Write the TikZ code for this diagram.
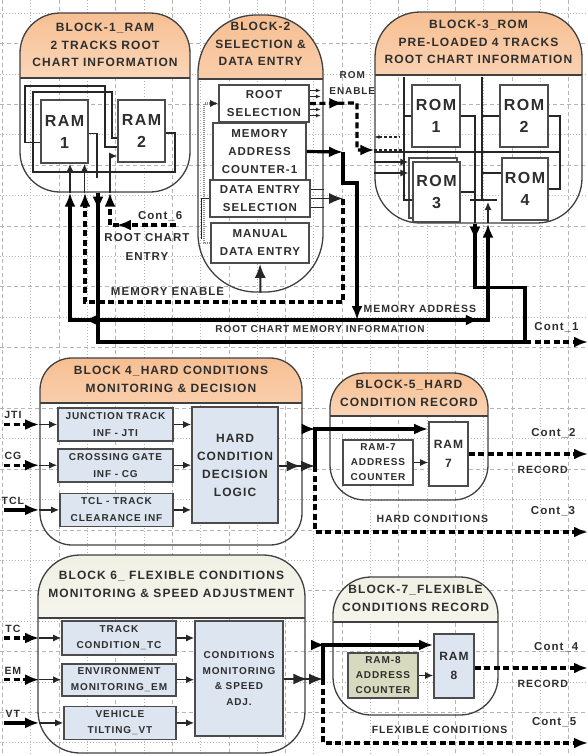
\documentclass[tikz,border=0pt]{standalone}
\usepackage{fontspec}
\setmainfont{Liberation Sans}[LetterSpace=9]
\usepackage{tikz}
\usetikzlibrary{arrows.meta, positioning, calc, decorations.markings}
\definecolor{hdrorange}{HTML}{F7BF92}
\definecolor{hdrpale}{HTML}{F1F0E4}
\definecolor{unitblue}{HTML}{DDE5F0}
\definecolor{unitkhaki}{HTML}{D7DABE}
\definecolor{gridgray}{HTML}{B5B5B5}
\definecolor{inkgray}{HTML}{2E2E2E}

\begin{document}
\begin{tikzpicture}[
    x=1pt, y=-1pt,
    block/.style n args={5}{draw=black!75, line width=1.3pt, minimum width=#1, minimum height=#2, rounded corners=#3, inner sep=0pt,
        path picture={
            \shade[sharp corners, top color=#5, bottom color=white] (path picture bounding box.north west) rectangle ([yshift=-#4]path picture bounding box.north east);
            \draw[sharp corners, black!75, line width=1.3pt] ([yshift=-#4]path picture bounding box.north west) -- ([yshift=-#4]path picture bounding box.north east);}},
    hdrtext/.style={align=center, text=inkgray, inner sep=1pt, font=\fontsize{12}{17.5}\selectfont\bfseries},
    unitbox/.style={draw=black!70, line width=1.7pt, fill=white, align=center, inner sep=0pt, text=inkgray, font=\fontsize{11.5}{18}\selectfont\bfseries},
    membox/.style={unitbox, font=\fontsize{16}{22}\selectfont\bfseries},
    smallbox/.style={unitbox, fill=unitblue, font=\fontsize{10}{16}\selectfont\bfseries},
    lbl/.style={text=inkgray, inner sep=1pt, align=center, font=\fontsize{10.5}{18}\selectfont\bfseries},
    contlbl/.style={lbl, font=\fontsize{11.5}{14}\selectfont\bfseries},
    gridline/.style={gridgray, line width=0.6pt},
    wire/.style={line width=1.2pt, black!85},
    bus/.style={line width=3.2pt},
    dashbus/.style={bus, dash pattern=on 6pt off 3.5pt},
    bigarrow/.style={-{Latex[length=14pt, width=11pt]}},
    smallarrow/.style={-{Latex[length=8pt, width=7pt]}},
    midtip/.style={postaction={decorate}, decoration={markings, mark=at position #1 with {\arrow{Latex[length=14pt, width=11pt]}}}}
]
\useasboundingbox (0,0) rectangle (588,756);

% Grid
\foreach \k in {0,2,...,20} \draw[gridline, dash pattern=on 4pt off 3pt] ({2.4+28.3*\k},0) -- ({2.4+28.3*\k},756);
\foreach \k in {1,3,...,19} \draw[gridline, dash pattern=on 1pt off 2pt] ({2.4+28.3*\k},0) -- ({2.4+28.3*\k},756);
\foreach \k in {0,2,...,24} \draw[gridline, dash pattern=on 1pt off 2pt] (0,{13+30.4*\k}) -- (588,{13+30.4*\k});
\foreach \k in {1,3,...,23} \draw[gridline, dash pattern=on 4pt off 3pt] (0,{13+30.4*\k}) -- (588,{13+30.4*\k});

% Blocks
\node[block={170}{179}{40}{65}{hdrorange}] (blk1) at (105,102.5) {};
\node[block={125}{277}{58}{64}{hdrorange}] (blk2) at (260.5,153.5) {};
\node[block={207}{211}{45}{63}{hdrorange}] (blk3) at (478.5,117.5) {};
\node[block={262}{187}{32}{45}{hdrorange}] (blk4) at (171,451.5) {};
\node[block={158}{127}{35}{43}{hdrorange}] (blk5) at (409,436.5) {};
\node[block={267}{198}{42}{63}{hdrpale}] (blk6) at (171.5,654) {};
\node[block={165}{138}{38}{45}{hdrpale}] (blk7) at (415.5,646) {};

\node[hdrtext, below=10pt of blk1.north] (blk1title) {BLOCK-1\_RAM\\2 TRACKS ROOT\\CHART INFORMATION};
\node[hdrtext, below=7pt of blk2.north] (blk2title) {BLOCK-2\\SELECTION \&\\DATA ENTRY};
\node[hdrtext, below=8pt of blk3.north] (blk3title) {BLOCK-3\_ROM\\PRE-LOADED 4 TRACKS\\ROOT CHART INFORMATION};
\node[hdrtext, below=8pt of blk4.north] (blk4title) {BLOCK 4\_HARD CONDITIONS\\MONITORING \& DECISION};
\node[hdrtext, below=7pt of blk5.north] (blk5title) {BLOCK-5\_HARD\\CONDITION RECORD};
\node[hdrtext, below=16pt of blk6.north] (blk6title) {BLOCK 6\_ FLEXIBLE CONDITIONS\\MONITORING \& SPEED ADJUSTMENT};
\node[hdrtext, below=8pt of blk7.north] (blk7title) {BLOCK-7\_FLEXIBLE\\CONDITIONS RECORD};

% Nodes
\node[membox, minimum width=47, minimum height=63] (ram1) at (64.5,131.5) {RAM\\1};
\node[membox, minimum width=47, minimum height=62] (ram2) at (141.5,131) {RAM\\2};

\node[unitbox, minimum width=90, minimum height=37] (rootsel) at (264,103.5) {ROOT\\SELECTION};
\node[unitbox, minimum width=93, minimum height=57] (mac) at (259.5,151.5) {MEMORY\\ADDRESS\\COUNTER-1};
\node[unitbox, minimum width=100, minimum height=37] (des) at (260,198.5) {DATA ENTRY\\SELECTION};
\node[unitbox, minimum width=98, minimum height=40] (mde) at (260,243) {MANUAL\\DATA ENTRY};

\draw[black!70, line width=1.7pt] (409,158) rectangle (457,218);
\node[membox, minimum width=48, minimum height=62] (rom1) at (436,116) {ROM\\1};
\node[membox, minimum width=48, minimum height=62] (rom2) at (524,116) {ROM\\2};
\node[membox, minimum width=47, minimum height=60] (rom3) at (436.5,192) {ROM\\3};
\node[membox, minimum width=46, minimum height=62] (rom4) at (525,189) {ROM\\4};

\node[smallbox, minimum width=115, minimum height=33, font=\fontsize{10}{17}\selectfont\bfseries] (jti) at (115.5,424.5) {JUNCTION TRACK\\INF - JTI};
\node[smallbox, minimum width=115, minimum height=33, font=\fontsize{10}{17}\selectfont\bfseries, below=6pt of jti] (cg) {CROSSING GATE\\INF - CG};
\node[smallbox, minimum width=113, minimum height=33, font=\fontsize{10}{17}\selectfont\bfseries, below=10pt of cg, xshift=1pt] (tcl) {TCL - TRACK\\CLEARANCE INF};
\node[smallbox, minimum width=86, minimum height=116, font=\fontsize{12}{18}\selectfont\bfseries] (hcd) at (235,465) {HARD\\CONDITION\\DECISION\\LOGIC};

\node[unitbox, minimum width=70, minimum height=45, font=\fontsize{10}{15}\selectfont\bfseries] (rc7) at (378,462.5) {RAM-7\\ADDRESS\\COUNTER};
\node[unitbox, minimum width=39, minimum height=64, font=\fontsize{12}{19}\selectfont\bfseries] (ram7) at (448.5,454) {RAM\\7};

\node[smallbox, minimum width=114, minimum height=34] (tc) at (119,638) {TRACK\\CONDITION\_TC};
\node[smallbox, minimum width=114, minimum height=32, below=7pt of tc] (em) {ENVIRONMENT\\MONITORING\_EM};
\node[smallbox, minimum width=112, minimum height=33, below=9pt of em, xshift=1pt] (vt) {VEHICLE\\TILTING\_VT};
\node[smallbox, minimum width=88, minimum height=115, font=\fontsize{10}{15.5}\selectfont\bfseries] (cms) at (239,678.5) {CONDITIONS\\MONITORING\\\& SPEED\\ADJ.};

\node[unitbox, fill=unitkhaki, minimum width=70, minimum height=45, font=\fontsize{10}{15}\selectfont\bfseries] (rc8) at (383,675.5) {RAM-8\\ADDRESS\\COUNTER};
\node[unitbox, fill=unitblue, minimum width=40, minimum height=64, font=\fontsize{12}{19}\selectfont\bfseries] (ram8) at (454,666) {RAM\\8};

% Wiring inside the RAM and ROM blocks
\draw[wire] ([yshift=-11pt]ram1.west) -| (25,86) -| (105,147) -- ([yshift=-16pt]ram2.west);
\draw[wire] ([yshift=-2pt]ram2.east) -| (175,172) -| (33,92) -| (112,138) -- ([yshift=-7pt]ram2.west);
\draw[wire] ([yshift=-2pt]ram1.east) -| (97,178);
\draw[wire, smallarrow] ([xshift=5.5pt]blk1.south -| ram1.south) -- ([xshift=5.5pt]ram1.south);
\draw[wire, smallarrow] ([xshift=20pt]blk1.south -| ram1.south) -- ([xshift=20pt]ram1.south);
\draw[wire, smallarrow] ([xshift=5pt]blk1.south) |- ([yshift=-25pt]ram2.west);

\draw[wire] (404,77) -- (404,200) -- ([yshift=-8pt]rom3.west);
\draw[wire] (rom1.west) -- (404,116);
\draw[wire] (482,77) -- (482,200);
\draw[wire] (rom2.west) -- (482,116);
\draw[wire] ([yshift=16pt]rom4.west) -- (482,173);
\draw[wire] (374,152) -- (560,152);
\draw[wire] (rom1.east) -| (475,223);
\draw[wire] (rom3.east) -- (475,192);
\draw[wire] (rom2.east) -| (560,189) -- (rom4.east);
\draw[wire] (470,200) -- (497,200);
\draw[wire, smallarrow] (488,223) -- (488,202);

% Arrows
\coordinate (c6) at (176,225);
\coordinate (me) at (343,302);
\coordinate (ma) at (343,152);
\coordinate (mab) at (357,320);
\coordinate (ob) at (525,342);
\coordinate (cont1) at (588,342);
\coordinate (re) at (357,103);

\draw[dashbus, midtip=0.6, bigarrow] (c6) -| node[pos=0.12, above=2pt, contlbl] {Cont\_6} node[pos=0.22, below=6pt, lbl, font=\fontsize{11.5}{19}\selectfont\bfseries] {ROOT CHART\\ENTRY} ([xshift=5pt]blk1.south);

\draw[wire, bigarrow] (des.east) -- (des.east -| me);
\draw[wire] ([yshift=-9pt]des.east) -- ++(13,0);
\draw[wire] ([yshift=9pt]des.east) -- ++(13,0);
\draw[dashbus, bigarrow] (des.east -| me) -- (me) -| node[pos=0.34, above=4pt, lbl, font=\fontsize{11.5}{14}\selectfont\bfseries] {MEMORY ENABLE} ([xshift=-20pt]blk1.south);

\draw[bus, bigarrow] (mac.east) -- (ma);
\draw[bus, bigarrow] (ma) -- ++(0,31) -| (mab);
\draw[bus, midtip=0.66, bigarrow] (mab) -| ([xshift=-35pt]blk1.south);
\draw[bus, midtip=0.54, bigarrow] (mab) -| node[pos=0.24, above=5pt, lbl] {MEMORY ADDRESS} ([xshift=9.5pt]blk3.south);

\draw[bus, bigarrow] ([xshift=-7pt]blk1.south) -- ++(0,18);
\draw[bus] ([xshift=-7pt]blk1.south) |- node[pos=0.76, above=7pt, lbl, font=\fontsize{10}{12}\selectfont\bfseries] {ROOT CHART MEMORY INFORMATION} (ob);
\draw[bus, bigarrow] ([xshift=-3.5pt]blk3.south) -- ++(0,17);
\draw[bus] ([xshift=-3.5pt]blk3.south) -- ++(0,64) -| (ob);
\draw[dashbus, bigarrow] (ob) -- node[above=8pt, contlbl] {Cont\_1} (cont1);

\draw[dashbus, midtip=0.3, bigarrow] (rootsel.east) -- node[pos=0.9, above=6pt, lbl, font=\fontsize{10}{16}\selectfont\bfseries] {ROM\\ENABLE} (re) |- ([yshift=-32.5pt]blk3.west);
\foreach \dy in {13,7,-6,-12} \draw[wire, -{Latex[length=5pt, width=4pt]}] ([yshift=\dy pt]rootsel.east) -- ++(11,0);
\draw[wire, densely dashed, {Latex[length=5pt, width=4pt]}-] ([yshift=-19.5pt]blk3.west) -- ++(25,0);
\draw[wire, densely dashed] ([yshift=-32.5pt]blk3.west) -- ++(30,0);
\draw[wire, smallarrow] ([yshift=-44.5pt]blk3.west) -- ++(34,0);
\draw[wire, smallarrow] ([yshift=-55.5pt]blk3.west) -- ++(34,0);

\draw[wire, line width=2pt, bigarrow] (blk2.south) -- (mde.south);
\draw[line width=2.4pt, black!45, dash pattern=on 0.8pt off 1.2pt] (mde.west) -- ++(-6,0) |- ([xshift=-3pt]rootsel.west);
\draw[wire, smallarrow] ([xshift=-8pt]rootsel.west) -- (rootsel.west);
\draw[wire] (des.west) -- ++(-8,0) -- ++(0,40);

% Hard conditions
\coordinate (j5) at (315,466);
\coordinate (cont2) at (588,454);
\coordinate (cont3) at (588,532);
\draw[dashbus, bigarrow] ([xshift=-53pt]jti.west) -- node[pos=0.25, above=3pt, lbl] {JTI} ([xshift=-18pt]jti.west);
\draw[dashbus, bigarrow] ([xshift=-53pt]cg.west) -- node[pos=0.25, above=3pt, lbl] {CG} ([xshift=-18pt]cg.west);
\draw[bus, bigarrow] ([xshift=-55pt]tcl.west) -- node[pos=0.25, above=3pt, lbl] {TCL} ([xshift=-20pt]tcl.west);
\draw[wire, smallarrow] ([xshift=-18pt]jti.west) -- (jti.west);
\draw[wire, smallarrow] ([xshift=-18pt]cg.west) -- (cg.west);
\draw[wire, smallarrow] ([xshift=-20pt]tcl.west) -- (tcl.west);
\draw[wire, smallarrow] (jti.east) -- (jti.east -| hcd.west);
\draw[wire, smallarrow] (cg.east) -- (cg.east -| hcd.west);
\draw[wire, smallarrow] (tcl.east) -- (tcl.east -| hcd.west);
\draw[wire, line width=1.6pt, midtip=0.6, bigarrow] (hcd.east |- j5) -- (j5);

\draw[bus, midtip=0.25, bigarrow] (j5) |- ([yshift=25pt]ram7.west);
\draw[dashbus, bigarrow] (j5) |- node[pos=0.715, above=7pt, lbl] {HARD CONDITIONS} node[pos=0.936, above=14pt, contlbl] {Cont\_3} (cont3);
\draw[wire, smallarrow] (rc7.east) -- (rc7.east -| ram7.west);
\draw[dashbus, bigarrow] (ram7.east) -- node[pos=0.71, above=14pt, contlbl] {Cont\_2} node[pos=0.62, below=10pt, lbl] {RECORD} (cont2);

% Flexible conditions
\coordinate (j7) at (323,679);
\coordinate (cont4) at (588,668);
\coordinate (cont5) at (588,743);
\draw[dashbus, bigarrow] ([xshift=-57pt]tc.west) -- node[pos=0.25, above=3pt, lbl] {TC} ([xshift=-22pt]tc.west);
\draw[dashbus, bigarrow] ([xshift=-57pt]em.west) -- node[pos=0.25, above=3pt, lbl] {EM} ([xshift=-22pt]em.west);
\draw[bus, bigarrow] ([xshift=-59pt]vt.west) -- node[pos=0.25, above=3pt, lbl] {VT} ([xshift=-24pt]vt.west);
\draw[wire, smallarrow] ([xshift=-22pt]tc.west) -- (tc.west);
\draw[wire, smallarrow] ([xshift=-22pt]em.west) -- (em.west);
\draw[wire, smallarrow] ([xshift=-24pt]vt.west) -- (vt.west);
\draw[wire, smallarrow] (tc.east) -- (tc.east -| cms.west);
\draw[wire, smallarrow] (em.east) -- (em.east -| cms.west);
\draw[wire, smallarrow] (vt.east) -- (vt.east -| cms.west);
\draw[wire, line width=1.6pt, midtip=0.6, bigarrow] (cms.east |- j7) -- (j7);

\draw[bus, midtip=0.25, bigarrow] (j7) |- ([yshift=21pt]ram8.west);
\draw[dashbus, bigarrow] (j7) |- node[pos=0.72, above=7pt, lbl] {FLEXIBLE CONDITIONS} node[pos=0.936, above=14pt, contlbl] {Cont\_5} (cont5);
\draw[wire, smallarrow] (rc8.east) -- (rc8.east -| ram8.west);
\draw[dashbus, bigarrow] ([yshift=-2pt]ram8.east) -- node[pos=0.72, above=14pt, contlbl] {Cont\_4} node[pos=0.6, below=10pt, lbl] {RECORD} (cont4);

\end{tikzpicture}
\end{document}
